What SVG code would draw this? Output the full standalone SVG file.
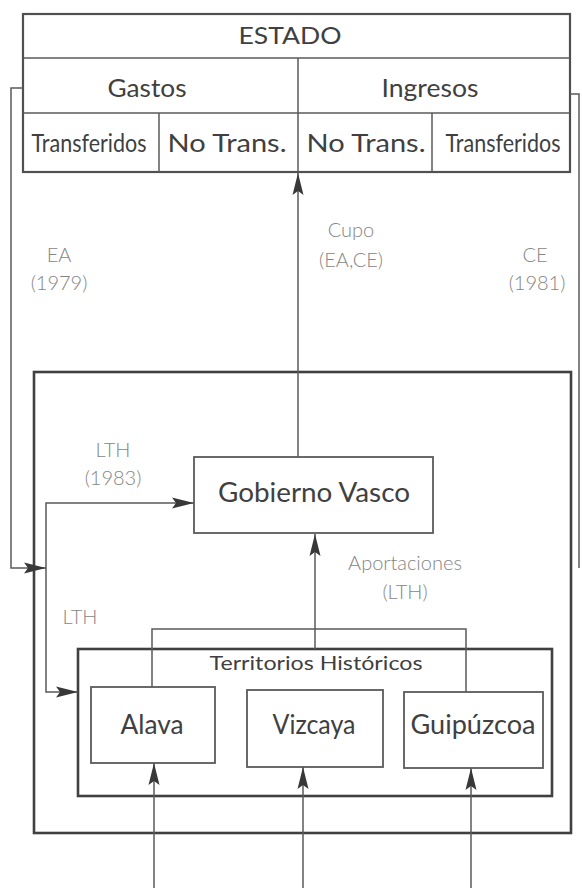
<svg xmlns="http://www.w3.org/2000/svg" width="582" height="888" viewBox="0 0 582 888">
<style>
.bg{fill:#ffffff}
.ln{fill:none;stroke:#5a5a5a;stroke-width:1.5}
.thick{fill:none;stroke:#404040;stroke-width:2.6}
.box{fill:#ffffff;stroke:#5a5a5a;stroke-width:1.8}
.tbl{fill:#ffffff;stroke:#505050;stroke-width:2.2}
.node{font-family:Lato,"Open Sans","Liberation Sans",sans-serif;fill:#404040;text-anchor:middle}
.lbl{font-family:Lato,"Open Sans","Liberation Sans",sans-serif;font-weight:300;fill:#858585;text-anchor:middle;font-size:20px}
</style>
<defs>
<marker id="ah" markerUnits="userSpaceOnUse" markerWidth="22" markerHeight="11" refX="22" refY="5.5" orient="auto" overflow="visible">
<path d="M0,0 L22,5.5 L0,11 L4,5.5 z" fill="#383838"/>
</marker>
</defs>
<rect class="bg" x="0" y="0" width="582" height="888"/>

<g id="estado">
<rect class="tbl" x="23" y="14" width="547" height="158"/>
<line class="ln" x1="23" y1="58" x2="570" y2="58"/>
<line class="ln" x1="23" y1="113" x2="570" y2="113"/>
<line class="ln" x1="298" y1="58" x2="298" y2="172"/>
<line class="ln" x1="159" y1="113" x2="159" y2="172"/>
<line class="ln" x1="432" y1="113" x2="432" y2="172"/>
<text class="node" x="290" y="44" font-size="24" textLength="103" lengthAdjust="spacingAndGlyphs">ESTADO</text>
<text class="node" x="147" y="97" font-size="25" textLength="79" lengthAdjust="spacingAndGlyphs">Gastos</text>
<text class="node" x="430" y="97" font-size="25" textLength="97" lengthAdjust="spacingAndGlyphs">Ingresos</text>
<text class="node" x="89" y="152" font-size="25" textLength="115" lengthAdjust="spacingAndGlyphs">Transferidos</text>
<text class="node" x="227" y="152" font-size="25" textLength="119" lengthAdjust="spacingAndGlyphs">No Trans.</text>
<text class="node" x="366" y="152" font-size="25" textLength="119" lengthAdjust="spacingAndGlyphs">No Trans.</text>
<text class="node" x="503" y="152" font-size="25" textLength="115" lengthAdjust="spacingAndGlyphs">Transferidos</text>
</g>

<g id="outer">
<rect class="thick" x="34" y="372" width="537" height="461"/>
</g>

<g id="territorios">
<rect class="thick" x="78" y="649" width="474" height="147"/>
<text class="node" x="316" y="670" font-size="20" textLength="213" lengthAdjust="spacingAndGlyphs">Territorios Históricos</text>
</g>

<g id="gobierno">
<rect class="box" x="194" y="457" width="239" height="76"/>
<text class="node" x="314" y="502" font-size="26" textLength="192" lengthAdjust="spacingAndGlyphs">Gobierno Vasco</text>
</g>

<g id="alava">
<rect class="box" x="91" y="687" width="124" height="76"/>
<text class="node" x="152" y="734" font-size="26" textLength="63" lengthAdjust="spacingAndGlyphs">Alava</text>
</g>
<g id="vizcaya">
<rect class="box" x="247" y="690" width="136" height="77"/>
<text class="node" x="314" y="734" font-size="26" textLength="83" lengthAdjust="spacingAndGlyphs">Vizcaya</text>
</g>
<g id="guipuzcoa">
<rect class="box" x="404" y="692" width="139" height="76"/>
<text class="node" x="473" y="734" font-size="26" textLength="125" lengthAdjust="spacingAndGlyphs">Guipúzcoa</text>
</g>

<g id="connectors">
<path class="ln" d="M298,457 V173" marker-end="url(#ah)"/>
<path class="ln" d="M23,88 H11 V568 H46" marker-end="url(#ah)"/>
<path class="ln" d="M570,94 H579 V568"/>
<path class="ln" d="M46,568 V503 H194" marker-end="url(#ah)"/>
<path class="ln" d="M46,568 V692 H78" marker-end="url(#ah)"/>
<path class="ln" d="M152,687 V629 H466 V692"/>
<path class="ln" d="M315,649 V534" marker-end="url(#ah)"/>
<path class="ln" d="M154,888 V763" marker-end="url(#ah)"/>
<path class="ln" d="M303,888 V767" marker-end="url(#ah)"/>
<path class="ln" d="M471,888 V768" marker-end="url(#ah)"/>
</g>

<g id="labels">
<text class="lbl" x="59" y="262">EA</text>
<text class="lbl" x="59" y="290">(1979)</text>
<text class="lbl" x="351" y="237">Cupo</text>
<text class="lbl" x="351" y="267">(EA,CE)</text>
<text class="lbl" x="535" y="262">CE</text>
<text class="lbl" x="537" y="290">(1981)</text>
<text class="lbl" x="113" y="457">LTH</text>
<text class="lbl" x="113" y="485">(1983)</text>
<text class="lbl" x="405" y="570">Aportaciones</text>
<text class="lbl" x="405" y="599">(LTH)</text>
<text class="lbl" x="80" y="624">LTH</text>
</g>
</svg>
